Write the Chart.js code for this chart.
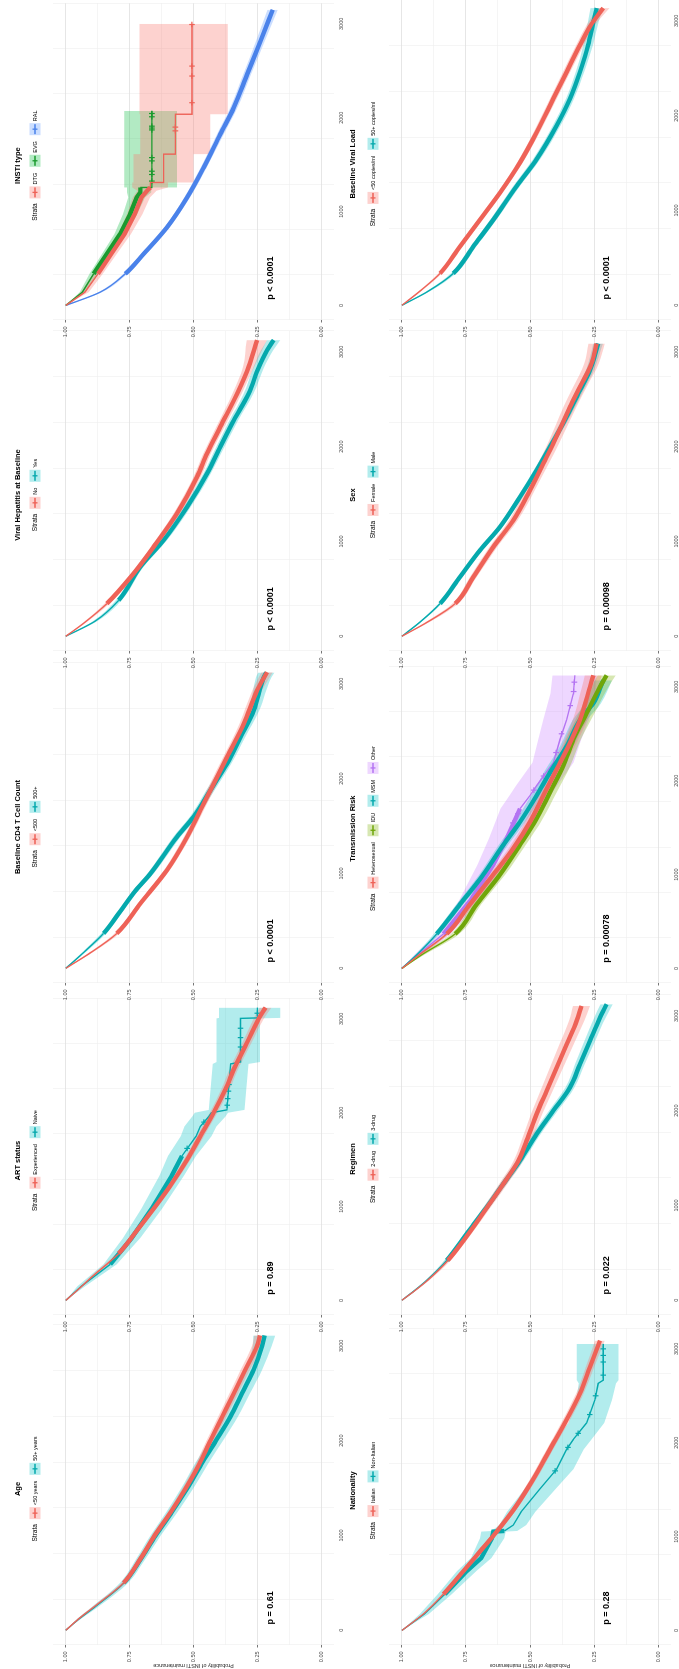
<!DOCTYPE html>
<html>
<head>
<meta charset="utf-8">
<title>INSTI maintenance by strata</title>
<script src="https://cdn.jsdelivr.net/npm/chart.js@4.4.1/dist/chart.umd.min.js"></script>
<style>
  html, body { margin:0; padding:0; background:#fff; width:679px; height:1669px; overflow:hidden; }
  #fig { position:absolute; left:0; top:0; width:1669px; height:679px; background:#fff;
         transform-origin:0 0; transform:translate(0,1669px) rotate(-90deg); overflow:hidden; }
  #fig canvas { position:absolute; }
</style>
</head>
<body>
<div id="fig"></div>
<script>
// rows: [time (days), survival, lower CI, upper CI]
var ageUnder50 = [[0,1,1,1],[120,.95,.945,.955],[250,.888,.881,.895],[500,.774,.765,.783],[750,.709,.699,.719],[1000,.652,.641,.663],[1250,.588,.576,.6],[1500,.53,.517,.543],[1750,.478,.464,.492],[2000,.434,.419,.449],[2250,.388,.372,.404],[2500,.342,.325,.359],[2750,.297,.279,.315],[3000,.251,.231,.271],[3110,.24,.218,.262]];
var age50plus = [[0,1,1,1],[120,.948,.94,.956],[250,.884,.872,.896],[500,.772,.756,.788],[750,.707,.689,.725],[1000,.648,.628,.668],[1250,.584,.562,.606],[1500,.524,.5,.548],[1750,.47,.444,.496],[2000,.412,.385,.439],[2250,.356,.327,.385],[2500,.31,.279,.341],[2750,.264,.231,.297],[3000,.231,.194,.268],[3110,.222,.18,.266]];

var artExperienced = [[0,1,1,1],[120,.95,.946,.954],[250,.898,.891,.905],[500,.793,.784,.802],[750,.72,.71,.73],[1000,.65,.639,.661],[1250,.584,.572,.596],[1500,.525,.512,.538],[1750,.473,.459,.487],[2000,.421,.406,.436],[2250,.375,.359,.391],[2500,.336,.319,.353],[2750,.29,.272,.308],[3000,.245,.225,.265],[3120,.218,.195,.241]];
var artNaive = [[0,1,1,1],[150,.94,.925,.955],[385,.826,.8,.852],[665,.742,.708,.776],[980,.663,.622,.704],[1330,.585,.537,.633],[1540,.545,.49,.6],[1750,.49,.43,.55],[1855,.473,.41,.535],[1960,.44,.375,.505],[2000,.43,.365,.495],[2030,.369,.3,.44],[2520,.355,.285,.425],[2540,.316,.24,.41],[3005,.316,.24,.41],[3010,.25,.16,.4],[3120,.25,.16,.4]];
var naiveCensor = [[1620,.525],[1900,.459],[2080,.368],[2150,.366],[2230,.363],[2300,.361],[2700,.316],[2800,.316],[2900,.316],[3060,.25]];

var cd4Under500 = [[0,1,1,1],[150,.911,.905,.917],[368,.8,.791,.809],[684,.708,.698,.718],[1035,.604,.593,.615],[1386,.525,.513,.537],[1667,.473,.46,.486],[1947,.421,.407,.435],[2228,.369,.354,.384],[2579,.303,.286,.32],[2930,.251,.232,.27],[3123,.212,.19,.234]];
var cd4Over500 = [[0,1,1,1],[150,.937,.931,.943],[368,.852,.843,.861],[600,.787,.777,.797],[825,.725,.714,.736],[1000,.668,.656,.68],[1386,.565,.551,.579],[1596,.5,.485,.515],[1877,.434,.418,.45],[2158,.369,.352,.386],[2439,.316,.297,.335],[2719,.264,.243,.285],[3070,.225,.195,.255],[3120,.215,.183,.247]];

var vhNo = [[0,1,1,1],[150,.924,.918,.93],[345,.839,.83,.848],[661,.735,.725,.745],[943,.656,.645,.667],[1294,.565,.552,.578],[1681,.486,.472,.5],[1927,.447,.432,.462],[2209,.395,.379,.411],[2561,.329,.311,.347],[2842,.284,.262,.306],[3124,.251,.212,.292]];
var vhYes = [[0,1,1,1],[160,.885,.877,.893],[380,.793,.782,.804],[732,.708,.696,.72],[1013,.617,.604,.63],[1365,.525,.511,.539],[1716,.447,.432,.462],[1998,.395,.379,.411],[2279,.342,.325,.359],[2561,.284,.265,.303],[2842,.244,.223,.265],[3018,.212,.188,.236],[3124,.186,.16,.212]];

var instiDTG = [[0,1,1,1],[142,.925,.91,.94],[337,.874,.855,.893],[549,.822,.8,.844],[762,.77,.745,.795],[974,.73,.7,.76],[1151,.704,.67,.738],[1222,.682,.645,.72],[1257,.669,.6,.74],[1310,.669,.6,.74],[1310,.617,.5,.735],[1612,.617,.5,.735],[1612,.571,.434,.708],[2037,.571,.434,.708],[2037,.506,.366,.711],[3000,.506,.366,.711]];
var dtgCensor = [[1860,.571],[1900,.571],[2160,.506],[2444,.506],[2550,.506],[2993,.506]];
var instiEVG = [[0,1,1,1],[142,.935,.925,.945],[337,.891,.875,.907],[549,.839,.82,.858],[762,.787,.765,.809],[974,.748,.72,.776],[1151,.722,.69,.755],[1204,.708,.665,.76],[1257,.708,.665,.76],[1257,.663,.565,.771],[2072,.663,.565,.771]];
var evgCensor = [[1325,.663],[1395,.663],[1430,.663],[1540,.663],[1575,.663],[1870,.663],[1890,.663],[1910,.663],[2010,.663],[2045,.663]];
var instiRAL = [[0,1,1,1],[142,.865,.858,.872],[337,.767,.759,.775],[549,.695,.686,.704],[832,.604,.594,.614],[1151,.525,.514,.536],[1470,.46,.448,.472],[1824,.395,.382,.408],[2108,.342,.328,.356],[2462,.29,.275,.305],[2816,.238,.221,.255],[3150,.19,.17,.21]];

var natItalian = [[0,1,1,1],[175,.916,.911,.921],[386,.838,.831,.845],[632,.76,.752,.768],[842,.695,.686,.704],[1053,.63,.62,.64],[1333,.552,.541,.563],[1614,.487,.475,.499],[1930,.422,.409,.435],[2246,.357,.343,.371],[2526,.305,.29,.32],[2807,.266,.249,.283],[3088,.227,.208,.246]];
var natNonItalian = [[0,1,1,1],[175,.912,.895,.93],[386,.832,.805,.86],[632,.747,.71,.785],[772,.69,.65,.73],[982,.649,.6,.695],[1053,.643,.595,.69],[1060,.6,.55,.65],[1123,.565,.515,.62],[1263,.535,.48,.59],[1509,.461,.4,.52],[1719,.396,.33,.46],[1930,.357,.29,.425],[2035,.331,.26,.4],[2211,.279,.21,.35],[2456,.247,.18,.32],[2632,.234,.165,.31],[2667,.214,.155,.318],[3053,.214,.155,.318]];
var nonItalianCensor = [[1700,.402],[1950,.352],[2100,.312],[2300,.267],[2500,.244],[2720,.214],[2860,.214],[2930,.214],[3000,.214]];

var regTwoDrug = [[0,1,1,1],[100,.95,.946,.954],[210,.9,.893,.907],[421,.82,.81,.83],[702,.74,.728,.752],[982,.667,.653,.681],[1228,.604,.588,.62],[1474,.545,.527,.563],[1684,.513,.493,.533],[1965,.474,.452,.496],[2211,.435,.411,.459],[2456,.396,.37,.422],[2702,.357,.329,.385],[2947,.318,.288,.348],[3105,.299,.266,.332]];
var regThreeDrug = [[0,1,1,1],[100,.952,.948,.956],[210,.903,.897,.909],[421,.825,.816,.834],[702,.747,.737,.757],[982,.669,.657,.681],[1228,.604,.591,.617],[1474,.539,.524,.554],[1754,.474,.458,.49],[2000,.409,.392,.426],[2246,.344,.326,.362],[2491,.305,.286,.324],[2737,.266,.245,.287],[2982,.227,.205,.249],[3123,.201,.177,.225]];

var trHetero = [[0,1,1,1],[150,.93,.923,.937],[368,.825,.814,.836],[684,.734,.72,.748],[1000,.643,.627,.659],[1281,.565,.547,.583],[1561,.5,.48,.52],[1842,.448,.426,.47],[2123,.396,.372,.42],[2404,.344,.318,.37],[2649,.305,.277,.333],[3000,.266,.235,.297],[3123,.253,.22,.286]];
var trIDU = [[0,1,1,1],[150,.92,.91,.93],[368,.792,.776,.808],[684,.708,.69,.726],[1000,.617,.597,.637],[1316,.539,.517,.561],[1596,.474,.45,.498],[1877,.422,.396,.448],[2158,.37,.343,.397],[2439,.331,.302,.36],[2719,.279,.248,.31],[3000,.227,.194,.26],[3123,.201,.166,.236]];
var trMSM = [[0,1,1,1],[150,.94,.933,.947],[368,.864,.853,.875],[684,.773,.759,.787],[1000,.682,.666,.698],[1316,.604,.586,.622],[1561,.539,.519,.559],[1842,.474,.452,.496],[2088,.422,.398,.446],[2368,.357,.331,.383],[2649,.305,.277,.333],[2825,.253,.223,.283],[3070,.214,.18,.248]];
var trOther = [[0,1,1,1],[150,.935,.92,.95],[368,.838,.81,.866],[719,.734,.69,.778],[1105,.643,.58,.705],[1386,.591,.52,.66],[1702,.539,.46,.615],[1842,.5,.42,.58],[1947,.474,.395,.555],[2193,.409,.33,.49],[2439,.383,.3,.468],[2649,.357,.27,.448],[2930,.331,.245,.42],[3123,.325,.24,.412]];
var otherCensor = [[1550,.567],[1650,.547],[1900,.485],[2050,.447],[2300,.398],[2500,.377],[2800,.343],[2950,.33],[3050,.327]];

var sexFemale = [[0,1,1,1],[150,.9,.892,.908],[345,.792,.781,.803],[626,.721,.708,.734],[943,.643,.628,.658],[1224,.565,.548,.582],[1541,.5,.481,.519],[1822,.448,.427,.469],[2033,.409,.387,.431],[2420,.344,.319,.369],[2631,.305,.279,.331],[2877,.26,.232,.288],[3088,.24,.208,.272]];
var sexMale = [[0,1,1,1],[150,.929,.925,.933],[345,.851,.845,.857],[626,.773,.766,.78],[907,.695,.687,.703],[1154,.617,.608,.626],[1470,.539,.529,.549],[1752,.474,.463,.485],[1998,.422,.41,.434],[2314,.357,.344,.37],[2596,.305,.29,.32],[2807,.266,.25,.282],[3088,.234,.215,.253]];

var bvlUnder50 = [[0,1,1,1],[150,.929,.924,.934],[336,.851,.844,.858],[620,.773,.765,.781],[903,.695,.686,.704],[1187,.617,.607,.627],[1506,.539,.528,.55],[1824,.474,.462,.486],[2179,.409,.396,.422],[2462,.357,.343,.371],[2745,.305,.29,.32],[2958,.262,.245,.279],[3135,.214,.19,.238]];
var bvlOver50 = [[0,1,1,1],[150,.896,.889,.903],[336,.799,.789,.809],[620,.721,.71,.732],[903,.643,.631,.655],[1258,.552,.539,.565],[1541,.474,.46,.488],[1895,.396,.381,.411],[2179,.344,.328,.36],[2462,.305,.288,.322],[2745,.273,.254,.292],[2993,.253,.232,.274],[3135,.24,.216,.264]];

var panelTitles = ['Age', 'ART status', 'Baseline CD4 T Cell Count', 'Viral Hepatitis at Baseline', 'INSTI type',
                   'Nationality', 'Regimen', 'Transmission Risk', 'Sex', 'Baseline Viral Load'];
var pValues = ['p = 0.61', 'p = 0.89', 'p < 0.0001', 'p < 0.0001', 'p < 0.0001',
               'p = 0.28', 'p = 0.022', 'p = 0.00078', 'p = 0.00098', 'p < 0.0001'];
var strataLabels = [['<50 years', '50+ years'], ['Experienced', 'Naive'], ['<500', '500+'], ['No', 'Yes'], ['DTG', 'EVG', 'RAL'],
                    ['Italian', 'Non-Italian'], ['2-drug', '3-drug'], ['Heterosexual', 'IDU', 'MSM', 'Other'], ['Female', 'Male'], ['<50 copies/ml', '50+ copies/ml']];
var timeTicks = [0, 1000, 2000, 3000];
var panelCurves = [[ageUnder50, age50plus], [artExperienced, artNaive], [cd4Under500, cd4Over500], [vhNo, vhYes], [instiDTG, instiEVG, instiRAL],
                   [natItalian, natNonItalian], [regTwoDrug, regThreeDrug], [trHetero, trIDU, trMSM, trOther], [sexFemale, sexMale], [bvlUnder50, bvlOver50]];
var panelCensor = [[], [null, naiveCensor], [], [], [dtgCensor, evgCensor, null],
                   [null, nonItalianCensor], [], [null, null, null, otherCensor], [], []];

var RED = '#EE6257', TEAL = '#05A9AD', BLUE = '#4A82EA', GREEN = '#1A9A2E', OLIVE = '#70A60A', PURPLE = '#B474F2';
var FILL = {};
FILL[RED] = 'rgba(248,118,109,0.33)';
FILL[TEAL] = 'rgba(0,191,196,0.3)';
FILL[BLUE] = 'rgba(97,156,255,0.33)';
FILL[GREEN] = 'rgba(0,186,56,0.3)';
FILL[OLIVE] = 'rgba(124,174,0,0.3)';
FILL[PURPLE] = 'rgba(199,124,255,0.3)';
var panelColors = [[RED, TEAL], [RED, TEAL], [RED, TEAL], [RED, TEAL], [RED, GREEN, BLUE],
                   [RED, TEAL], [RED, TEAL], [RED, OLIVE, TEAL, PURPLE], [RED, TEAL], [RED, TEAL]];
// thick (dense censoring) up to this time, thin step line after it
var NONE = 1e9;
var thickUntil = [[NONE, NONE], [NONE, 1540], [NONE, NONE], [NONE, NONE], [1250, 1250, NONE],
                  [NONE, 1060], [NONE, NONE], [NONE, NONE, NONE, 1400], [NONE, NONE], [NONE, NONE]];

var FONT = '"Liberation Sans", Arial, Helvetica, sans-serif';
Chart.defaults.font.family = FONT;

var colLeft = [0, 330, 662, 994, 1325];
var CANVAS_W = 346;

function isMajor(v, unit) {
  return Math.abs(v / unit - Math.round(v / unit)) < 1e-6;
}

function decor(idx, top) {
  return {
    id: 'kmDecor' + idx,
    afterDraw: function (chart) {
      var ctx = chart.ctx, a = chart.chartArea;
      var sx = chart.scales.x, sy = chart.scales.y;
      var cx = (a.left + a.right) / 2 - 4;
      var titleY = top ? 18 : 13, legendY = top ? 35 : 33;
      ctx.save();
      ctx.fillStyle = '#000';
      ctx.textBaseline = 'middle';
      ctx.textAlign = 'center';
      ctx.font = 'bold 7.5px ' + FONT;
      ctx.fillText(panelTitles[idx], cx, titleY);

      // time tick labels under the panel
      ctx.fillStyle = '#4D4D4D';
      ctx.font = '5.5px ' + FONT;
      timeTicks.forEach(t => {
        ctx.fillText(String(t), sx.getPixelForValue(t), a.bottom + (top ? 7 : 5.5));
      });

      var labels = strataLabels[idx], colors = panelColors[idx];
      ctx.font = '6.5px ' + FONT;
      var wStrata = ctx.measureText('Strata').width;
      ctx.font = '5.5px ' + FONT;
      var widths = labels.map(l => ctx.measureText(l).width);
      var box = 12, gap = 2, sep = 6;
      var total = wStrata + 5;
      widths.forEach((w, i) => { total += box + gap + w + (i ? sep : 0); });
      var x = cx - total / 2;
      ctx.textAlign = 'left';
      ctx.fillStyle = '#000';
      ctx.font = '6.5px ' + FONT;
      ctx.fillText('Strata', x, legendY);
      x += wStrata + 5;
      ctx.font = '5.5px ' + FONT;
      labels.forEach((l, i) => {
        if (i) x += sep;
        ctx.fillStyle = FILL[colors[i]];
        ctx.fillRect(x, legendY - 5.5, box, 11);
        ctx.strokeStyle = colors[i];
        ctx.lineWidth = 1.3;
        ctx.beginPath();
        ctx.moveTo(x + 1, legendY);
        ctx.lineTo(x + box - 1, legendY);
        ctx.moveTo(x + box / 2, legendY - 2.5);
        ctx.lineTo(x + box / 2, legendY + 2.5);
        ctx.stroke();
        ctx.fillStyle = '#000';
        ctx.fillText(l, x + box + gap, legendY);
        x += box + gap + widths[i];
      });

      ctx.font = 'bold 9px ' + FONT;
      ctx.fillText(pValues[idx], sx.getPixelForValue(60), sy.getPixelForValue(0.2));
      ctx.restore();
    }
  };
}

function buildDatasets(idx) {
  var lines = [], bands = [];
  panelCurves[idx].forEach((rows, i) => {
    var color = panelColors[idx][i];
    var limit = thickUntil[idx][i];
    var stepLike = limit < NONE;
    var mode = stepLike ? 'default' : 'monotone';
    lines.push({
      data: rows.map(r => ({ x: r[0], y: r[1] })),
      borderColor: color,
      backgroundColor: color,
      borderWidth: 4.4,
      pointRadius: 0,
      tension: 0,
      cubicInterpolationMode: mode,
      fill: false,
      segment: {
        borderWidth: c => {
          var t = rows[c.p0DataIndex][0];
          return (t >= 320 && t < limit) ? 4.4 : 1.4;
        }
      }
    });
    var cens = panelCensor[idx][i];
    if (cens) {
      lines.push({
        data: cens.map(c => ({ x: c[0], y: c[1] })),
        showLine: false,
        pointStyle: 'cross',
        pointRadius: 2.8,
        pointBorderWidth: 1.2,
        borderColor: color,
        pointBorderColor: color,
        backgroundColor: color
      });
    }
    bands.push({
      data: rows.map(r => ({ x: r[0], y: r[3] })),
      borderWidth: 0, pointRadius: 0, tension: 0, cubicInterpolationMode: mode,
      fill: '+1', backgroundColor: FILL[color]
    });
    bands.push({
      data: rows.map(r => ({ x: r[0], y: r[2] })),
      borderWidth: 0, pointRadius: 0, tension: 0, cubicInterpolationMode: mode,
      fill: false
    });
  });
  return lines.concat(bands);
}

function makePanel(idx) {
  var top = idx < 5, col = idx % 5;
  var H = top ? 346 : 339;
  var xh = top ? 12 : 8;
  var cv = document.createElement('canvas');
  cv.width = CANVAS_W;
  cv.height = H;
  cv.style.width = CANVAS_W + 'px';
  cv.style.height = H + 'px';
  cv.style.left = colLeft[col] + 'px';
  cv.style.top = (top ? 0 : 340) + 'px';
  document.getElementById('fig').appendChild(cv);

  var tickFont = { size: 5.5, family: FONT };
  new Chart(cv, {
    type: 'line',
    data: { datasets: buildDatasets(idx) },
    options: {
      responsive: false,
      animation: false,
      devicePixelRatio: 1,
      events: [],
      layout: { padding: { top: top ? 53 : 49, right: 2, bottom: 0, left: 0 } },
      plugins: { legend: { display: false }, tooltip: { enabled: false }, title: { display: false } },
      scales: {
        x: {
          type: 'linear', min: -155, max: 3220,
          border: { display: false },
          ticks: { stepSize: 500, includeBounds: false, autoSkip: false, maxRotation: 0, display: false },
          grid: {
            color: c => c.tick && isMajor(c.tick.value, 1000) ? '#E3E3E3' : '#EEEEEE',
            lineWidth: c => c.tick && isMajor(c.tick.value, 1000) ? 0.9 : 0.6,
            tickLength: top ? 2.5 : 2,
            tickColor: c => c.tick && isMajor(c.tick.value, 1000) ? '#666' : 'rgba(0,0,0,0)'
          },
          afterFit: s => { s.height = xh; }
        },
        y: {
          min: -0.05, max: 1.05,
          border: { display: false },
          ticks: {
            stepSize: 0.125, includeBounds: false, autoSkip: false,
            color: '#4D4D4D', font: tickFont, padding: 4,
            callback: v => isMajor(v, 0.25) ? v.toFixed(2) : ''
          },
          grid: {
            color: c => c.tick && isMajor(c.tick.value, 0.25) ? '#E3E3E3' : '#EEEEEE',
            lineWidth: c => c.tick && isMajor(c.tick.value, 0.25) ? 0.9 : 0.6,
            tickLength: 2.5,
            tickColor: c => c.tick && isMajor(c.tick.value, 0.25) ? '#666' : 'rgba(0,0,0,0)'
          },
          title: {
            display: col === 0,
            text: 'Probability of INSTI maintenance',
            color: '#1A1A1A',
            font: { size: 5.5, family: FONT },
            padding: 0
          },
          afterFit: s => { s.width = 24; }
        }
      }
    },
    plugins: [decor(idx, top)]
  });
}

for (var i = 0; i < 10; i++) makePanel(i);
</script>
</body>
</html>
